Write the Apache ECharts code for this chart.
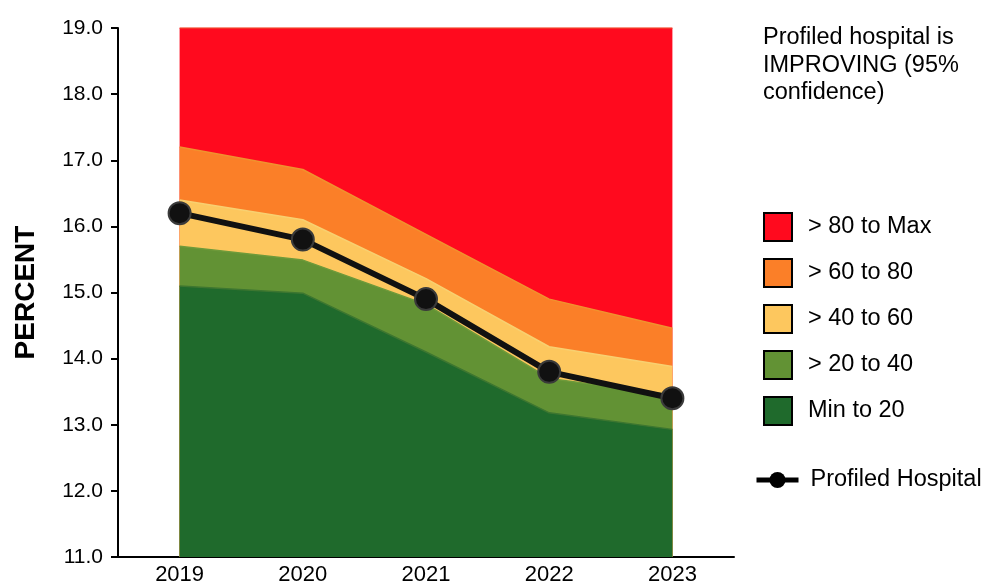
<!DOCTYPE html>
<html>
<head>
<meta charset="utf-8">
<script src="https://cdn.jsdelivr.net/npm/echarts@6/dist/echarts.min.js"></script>
<style>
html,body{margin:0;padding:0;background:#fff;}
#main{width:984px;height:586px;}
</style>
</head>
<body>
<div id="main"></div>
<script>
var years = ['2019', '2020', '2021', '2022', '2023'];
// upper boundary of each percentile band
var bandMax   = [19.0, 19.0, 19.0, 19.0, 19.0];
var band80    = [17.2, 16.86, 15.88, 14.9, 14.46];
var band60    = [16.4, 16.1, 15.21, 14.18, 13.88];
var band40    = [15.7, 15.49, 14.82, 13.7, 13.45];
var band20    = [15.1, 14.99, 14.1, 13.18, 12.93];
var hospital  = [16.2, 15.8, 14.9, 13.8, 13.4];
var yTicks = [11, 12, 13, 14, 15, 16, 17, 18, 19];

var bandNames  = ['> 80 to Max', '> 60 to 80', '> 40 to 60', '> 20 to 40', 'Min to 20'];
var bandData   = [bandMax, band80, band60, band40, band20];
var bandColors = ['#FF0A1E', '#FB7F28', '#FDC75E', '#629234', '#1F6A2C'];
var bandLines  = ['#F2402A', '#F0922E', '#F8D070', '#6E9A3A', '#3D7630'];

var FONT = '"Liberation Sans", Arial, sans-serif';
var chart = echarts.init(document.getElementById('main'));

var series = bandNames.map(function (n, i) {
  return {
    name: n,
    type: 'line',
    data: bandData[i],
    symbol: 'none',
    z: 2 + i,
    lineStyle: { width: 1.5, color: bandLines[i] },
    itemStyle: { color: bandColors[i] },
    areaStyle: { color: bandColors[i], opacity: 1 },
    emphasis: { disabled: true },
    animation: false
  };
});
series.push({
  name: 'Profiled Hospital',
  type: 'line',
  data: hospital,
  symbol: 'circle',
  symbolSize: 22,
  z: 20,
  lineStyle: { width: 6, color: '#111111' },
  itemStyle: { color: '#111111', borderColor: '#3a3a3a', borderWidth: 2 },
  emphasis: { disabled: true },
  animation: false
});

chart.setOption({
  animation: false,
  backgroundColor: '#ffffff',
  grid: { left: 118, top: 28, width: 616, height: 530 },
  xAxis: {
    type: 'category',
    data: years,
    boundaryGap: true,
    axisLine: { lineStyle: { color: '#000', width: 2 } },
    axisTick: { show: false },
    axisLabel: { color: '#000', fontSize: 22, fontFamily: FONT, margin: 7 },
    splitLine: { show: false }
  },
  yAxis: {
    type: 'value',
    min: yTicks[0],
    max: yTicks[yTicks.length - 1],
    interval: 1,
    name: 'PERCENT',
    nameLocation: 'middle',
    nameGap: 78,
    nameTextStyle: { color: '#000', fontSize: 28, fontWeight: 'bold', fontFamily: FONT },
    axisLine: { show: true, lineStyle: { color: '#000', width: 2 } },
    axisTick: { show: true, inside: false, length: 7, lineStyle: { color: '#000', width: 2 } },
    axisLabel: {
      color: '#000', fontSize: 21, fontFamily: FONT, margin: 15,
      formatter: function (v) { return v.toFixed(1); }
    },
    splitLine: { show: false }
  },
  legend: [
    {
      data: bandNames.map(function (n) { return { name: n, icon: 'rect' }; }),
      orient: 'vertical',
      left: 763,
      top: 212,
      padding: 0,
      itemWidth: 28,
      itemHeight: 28,
      itemGap: 16,
      itemStyle: { borderColor: '#000', borderWidth: 2 },
      textStyle: { color: '#000', fontSize: 23.5, fontFamily: FONT, lineHeight: 28, padding: [0, 0, 0, 11] },
      selectedMode: false
    },
    {
      data: [{
        name: 'Profiled Hospital',
        lineStyle: { width: 5, color: '#000' },
        itemStyle: { color: '#000', borderWidth: 0 }
      }],
      orient: 'vertical',
      left: 754,
      top: 467,
      padding: 0,
      itemWidth: 42,
      itemHeight: 20,
      textStyle: { color: '#000', fontSize: 23.5, fontFamily: FONT, lineHeight: 26, padding: [0, 0, 0, 7] },
      selectedMode: false
    }
  ],
  graphic: [
    {
      type: 'text',
      left: 763,
      top: 24,
      style: {
        text: 'Profiled hospital is\nIMPROVING (95%\nconfidence)',
        fill: '#000',
        font: '23.5px ' + FONT,
        lineHeight: 27.5
      }
    }
  ],
  series: series
});
</script>
</body>
</html>
